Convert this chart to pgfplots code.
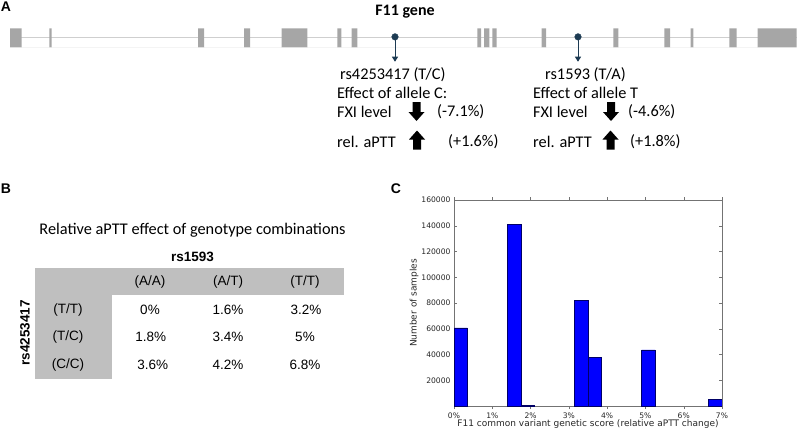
\documentclass[border=0pt]{standalone}
\usepackage{fontspec}
\setmainfont{Carlito}
\newfontfamily\arialf{Liberation Sans}
\newfontfamily\dejavu{DejaVu Sans}
\usepackage{pgfplots}
\pgfplotsset{compat=1.18}
\usetikzlibrary{arrows.meta}
\definecolor{exon}{HTML}{A6A6A6}
\definecolor{intron}{HTML}{CFCFCF}
\definecolor{snp}{HTML}{1D3B53}
\definecolor{tabgray}{HTML}{BFBFBF}
\newcommand{\fs}[1]{\fontsize{#1}{#1}\selectfont}
\newcommand{\bigdown}[2]{\fill[black,shift={(#1pt,-#2pt)}] (-4pt,0pt) -- (4pt,0pt) -- (4pt,-10pt) -- (8pt,-10pt) -- (0pt,-19pt) -- (-8pt,-10pt) -- (-4pt,-10pt) -- cycle;}
\newcommand{\bigup}[2]{\fill[black,shift={(#1pt,-#2pt)}] (0pt,0pt) -- (8pt,-9pt) -- (4pt,-9pt) -- (4pt,-19pt) -- (-4pt,-19pt) -- (-4pt,-9pt) -- (-8pt,-9pt) -- cycle;}
\begin{document}
\begin{tikzpicture}
\path[use as bounding box] (0pt,0pt) rectangle (800pt,-429pt);

% ---------------- Panel A ----------------
\node[font=\arialf\bfseries\fs{14}, inner sep=0] at (6pt,-7pt) {A};
\node[font=\bfseries\fs{16}, inner sep=0] at (405pt,-12pt) {F11 gene};

\begin{axis}[at={(0pt,-47.3pt)}, anchor=south west, scale only axis,
  width=800pt, height=19pt, xmin=0, xmax=800, ymin=0, ymax=1,
  axis lines=none, clip=false]
\addplot[intron, line width=1.2pt] coordinates {(10,0.5) (797,0.5)};
\addplot[const plot, fill=exon, draw=none] coordinates {
 (10,1) (21.7,0) (49.3,1) (51.7,0) (198,1) (204,0) (244,1) (250,0)
 (281.7,1) (307.3,0) (337.3,1) (341.3,0) (351.7,1) (357.3,0)
 (477.3,1) (481,0) (484,1) (489.3,0) (492.3,1) (496.7,0)
 (541.7,1) (546,0) (613.3,1) (618.3,0) (664.3,1) (670,0)
 (690.7,1) (693.3,0) (729.3,1) (736.7,0) (757.7,1) (796.7,0)} \closedcycle;
\addplot[snp, line width=0.8pt, -{Triangle[length=5pt,width=6pt]}] coordinates {(395,0.55) (395,-0.76)};
\addplot[snp, line width=0.8pt, -{Triangle[length=5pt,width=6pt]}] coordinates {(578,0.55) (578,-0.76)};
\addplot[only marks, mark=*, mark size=3.3pt, snp] coordinates {(395,0.55) (578,0.55)};
\end{axis}

\begin{scope}[every node/.style={font=\fs{16.3}, inner sep=0, anchor=west}]
\node at (340pt,-75pt) {rs4253417 (T/C)};
\node at (337pt,-93pt) {Effect of allele C:};
\node at (337pt,-112pt) {FXI level};
\node at (437pt,-112pt) {(-7.1\%)};
\node at (337pt,-141.5pt) {rel. aPTT};
\node at (448pt,-141.5pt) {(+1.6\%)};
\node at (545pt,-75pt) {rs1593 (T/A)};
\node at (533pt,-93pt) {Effect of allele T};
\node at (533pt,-112pt) {FXI level};
\node at (628pt,-112pt) {(-4.6\%)};
\node at (533pt,-141.5pt) {rel. aPTT};
\node at (630pt,-141.5pt) {(+1.8\%)};
\end{scope}
\bigdown{416.5}{102}
\bigup{417}{130.5}
\bigdown{611}{102}
\bigup{610.5}{130.5}

% ---------------- Panel B ----------------
\node[font=\arialf\bfseries\fs{14}, inner sep=0] at (6pt,-189pt) {B};
\node[font=\fs{16.3}, inner sep=0] at (192.5pt,-230.7pt) {Relative aPTT effect of genotype combinations};
\fill[tabgray] (35pt,-267.7pt) rectangle (344pt,-295pt);
\fill[tabgray] (35pt,-267.7pt) rectangle (111.7pt,-379pt);
\node[font=\arialf\bfseries\fs{13.5}, inner sep=0] at (192.5pt,-257pt) {rs1593};
\node[font=\arialf\bfseries\fs{13.5}, inner sep=0, rotate=90] at (25pt,-333pt) {rs4253417};
\begin{scope}[every node/.style={font=\arialf\fs{13.5}, inner sep=0}]
\node at (150pt,-281.7pt) {(A/A)};
\node at (228pt,-281.7pt) {(A/T)};
\node at (305pt,-281.7pt) {(T/T)};
\node at (68pt,-310pt) {(T/T)};
\node at (68pt,-337.3pt) {(T/C)};
\node at (68pt,-365pt) {(C/C)};
\node at (150pt,-310pt) {0\%};
\node at (228pt,-310pt) {1.6\%};
\node at (306pt,-310pt) {3.2\%};
\node at (150.7pt,-337.3pt) {1.8\%};
\node at (228pt,-337.3pt) {3.4\%};
\node at (305pt,-337.3pt) {5\%};
\node at (152.7pt,-365pt) {3.6\%};
\node at (228pt,-365pt) {4.2\%};
\node at (305pt,-365pt) {6.8\%};
\end{scope}

% ---------------- Panel C ----------------
\node[font=\arialf\bfseries\fs{14}, inner sep=0] at (396pt,-189pt) {C};
\begin{axis}[at={(454pt,-406pt)}, anchor=south west, scale only axis,
  width=268pt, height=206pt,
  xmin=0, xmax=7, ymin=0, ymax=160000,
  xtick={0,1,2,3,4,5,6,7},
  xticklabels={0\%,1\%,2\%,3\%,4\%,5\%,6\%,7\%},
  ytick={20000,40000,60000,80000,100000,120000,140000,160000},
  yticklabels={20000,40000,60000,80000,100000,120000,140000,160000},
  scaled y ticks=false,
  tick align=inside, major tick length=3pt,
  axis line style={black!55}, tick style={black!55},
  ticklabel style={font=\dejavu\fs{7.6}, text=black!85},
  label style={font=\dejavu\fs{9}, text=black!85},
  xlabel={F11 common variant genetic score (relative aPTT change)},
  ylabel={Number of samples},
  xlabel shift=-5pt, ylabel shift=-4pt,
  ybar, bar width=0.35]
\addplot[fill=blue, draw=black!60!blue, line width=0.5pt, bar shift=0pt] coordinates {
 (0.175,60700) (1.575,141100) (1.925,500) (3.325,81900) (3.675,37750) (5.075,43650) (6.825,5400)};
\end{axis}
\end{tikzpicture}
\end{document}
